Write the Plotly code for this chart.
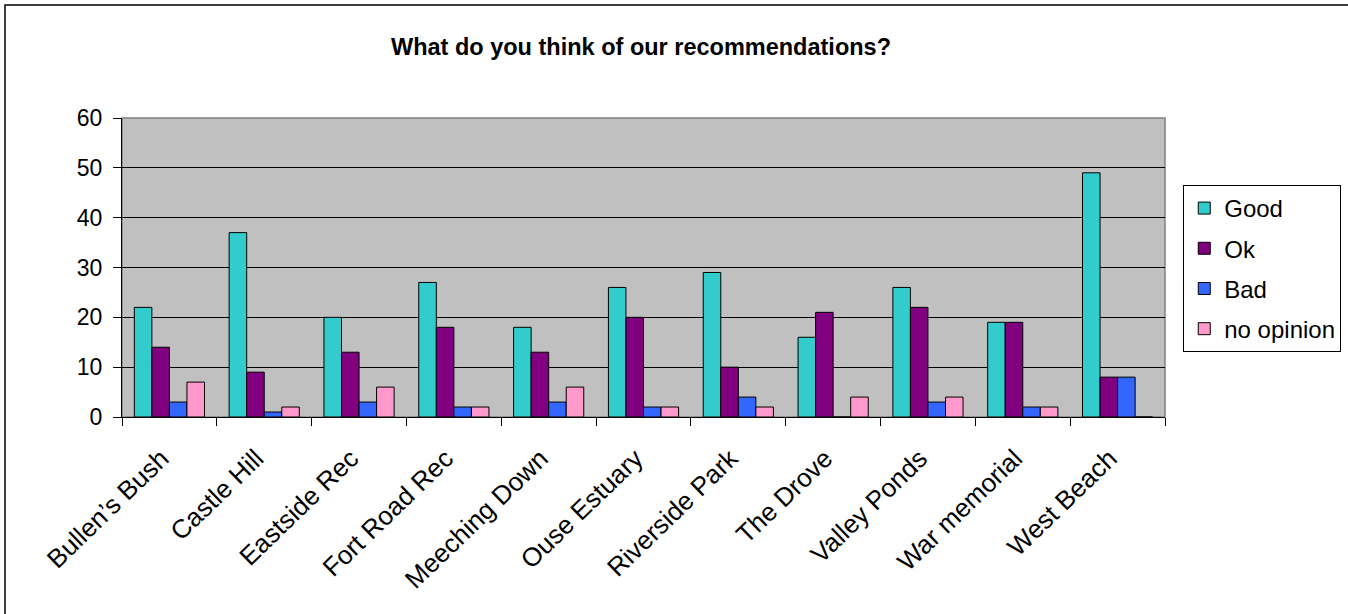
import plotly.graph_objects as go

# Survey responses per site
sites = ["Bullen’s Bush", "Castle Hill", "Eastside Rec", "Fort Road Rec", "Meeching Down",
         "Ouse Estuary", "Riverside Park", "The Drove", "Valley Ponds", "War memorial", "West Beach"]
good = [22, 37, 20, 27, 18, 26, 29, 16, 26, 19, 49]
ok = [14, 9, 13, 18, 13, 20, 10, 21, 22, 19, 8]
bad = [3, 1, 3, 2, 3, 2, 4, 0, 3, 2, 8]
no_opinion = [7, 2, 6, 2, 6, 2, 2, 4, 4, 2, 0]

series = [
    ("Good", good, "#33CCCC"),
    ("Ok", ok, "#800080"),
    ("Bad", bad, "#3366FF"),
    ("no opinion", no_opinion, "#FF99CC"),
]

FONT = "Arial, Liberation Sans, sans-serif"

fig = go.Figure()
for name, vals, color in series:
    fig.add_trace(go.Bar(
        x=sites, y=vals, name=name, legendgroup=name,
        marker=dict(color=color, line=dict(color="black", width=1)),
    ))

fig.update_layout(
    width=1348, height=614,
    margin=dict(l=122, r=183, t=118, b=197, autoexpand=False),
    paper_bgcolor="white",
    plot_bgcolor="#C0C0C0",
    barmode="group", bargap=0.26, bargroupgap=0,
    font=dict(family=FONT, color="black"),
    showlegend=True,
    legend=dict(
        x=1.0175, y=0.776, xanchor="left", yanchor="top",
        bordercolor="black", borderwidth=1, bgcolor="white",
        font=dict(size=24, family=FONT), tracegroupgap=6,
        itemwidth=30,
    ),
)

fig.update_yaxes(
    range=[0, 60], dtick=10, showgrid=True, gridcolor="black", gridwidth=1,
    showline=True, linecolor="black", linewidth=1,
    ticks="outside", ticklen=8, tickcolor="black",
    tickfont=dict(size=23, family=FONT), zeroline=False, ticklabelstandoff=6,
)
fig.update_xaxes(
    showline=True, linecolor="black", linewidth=1,
    ticks="outside", ticklen=8, tickcolor="black", tickson="boundaries",
    tickangle=-44, tickfont=dict(size=26, family=FONT),
    ticklabelstandoff=15, ticklabelshift=-8,
)

# Plot-area outline (top and right edges)
fig.add_shape(type="rect", xref="paper", yref="paper", x0=0, x1=1, y0=0, y1=1,
              line=dict(color="#808080", width=1.5), layer="below")

# Chart frame
fig.add_shape(type="rect", xref="paper", yref="paper",
              x0=-117 / 1043, x1=1.2, y0=-0.7, y1=(417 - 5) / 299,
              line=dict(color="black", width=1.5))

fig.add_annotation(
    text="<b>What do you think of our recommendations?</b>",
    xref="paper", yref="paper", x=(641 - 122) / 1043, y=(417 - 47) / 299,
    xanchor="center", yanchor="middle", showarrow=False,
    font=dict(size=23.5, family=FONT, color="black"),
)

fig.write_html("out.html")
